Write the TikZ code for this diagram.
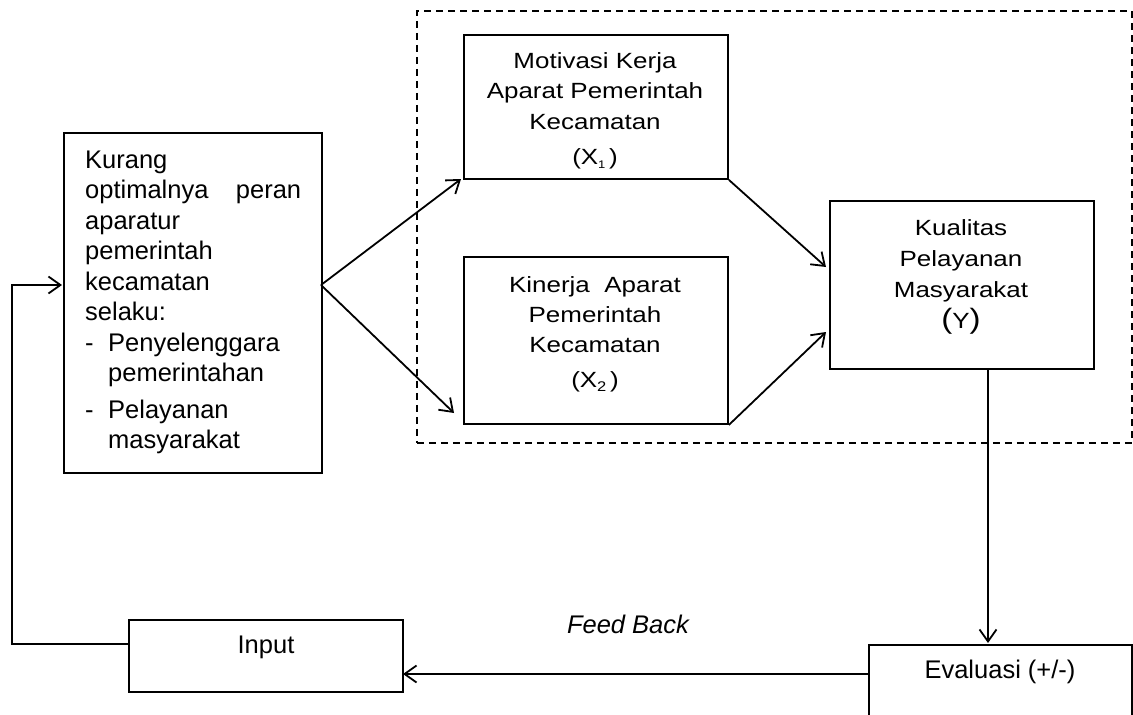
\documentclass[tikz,border=0pt]{standalone}
\usepackage{fontspec}
\setmainfont{Liberation Sans}
\newfontfamily\innerf[FakeStretch=1.18]{Liberation Sans}
\usetikzlibrary{arrows.meta,calc}
\newcommand{\lowidx}[2]{\raisebox{-4pt}{\fontsize{#1}{#1}\selectfont #2}}
\begin{document}
\begin{tikzpicture}[x=1pt,y=-1pt,
  box/.style={draw, line width=1.9pt, inner sep=0pt, anchor=north west},
  conn/.style={line width=1.8pt, -{Straight Barb[length=12pt,width=17pt]}},
  dashedbox/.style={draw, line width=1.8pt, dash pattern=on 7pt off 5pt, inner sep=0pt, anchor=north west},
  mtxt/.style={inner sep=0pt, anchor=base, font=\fontsize{25.5}{30.5}\selectfont},
  itxt/.style={inner sep=0pt, anchor=base}
]
\path[use as bounding box] (0,0) rectangle (1133,715);
\fill[white] (0,0) rectangle (1133,715);

% group frame
\node[dashedbox, minimum width=715pt, minimum height=432pt] (grp) at (416,10) {};

% boxes
\node[box, minimum width=258pt, minimum height=340pt] (prob) at (63,132) {};
\node[box, minimum width=264pt, minimum height=144pt] (mot) at (463,34) {};
\node[box, minimum width=264pt, minimum height=167pt] (kin) at (463,256) {};
\node[box, minimum width=264pt, minimum height=168pt] (kual) at (829,200) {};
\node[box, minimum width=274pt, minimum height=72pt] (inp) at (128,619) {};
\node[box, minimum width=263pt, minimum height=74pt] (eva) at (868,644) {};

% texts
\node[itxt, anchor=base west] (probtxt) at (85,168) {\parbox[t]{216pt}{\fontsize{25.5}{30.5}\selectfont\raggedright
Kurang\\
optimalnya\hfill peran\\
aparatur\\
pemerintah\\
kecamatan\\
selaku:\\
\makebox[23pt][l]{-}Penyelenggara\\
\hspace*{23pt}pemerintahan\\[6pt]
\makebox[23pt][l]{-}Pelayanan\\
\hspace*{23pt}masyarakat}};

\node[itxt] (mottxt) at (595,68) {\parbox[t]{250pt}{\centering\innerf\fontsize{22}{30.5}\selectfont
Motivasi Kerja\\
Aparat Pemerintah\\
Kecamatan\\[5pt]
(X\lowidx{11}{1}\,)}};

\node[itxt] (kintxt) at (595,292) {\parbox[t]{250pt}{\centering\innerf\fontsize{22}{30}\selectfont
Kinerja\ \ Aparat\\
Pemerintah\\
Kecamatan\\[5pt]
(X\lowidx{14}{2}\,)}};

\node[itxt] (kualtxt) at (961,235) {\parbox[t]{250pt}{\centering\innerf\fontsize{22}{31}\selectfont
Kualitas\\
Pelayanan\\
Masyarakat\\
{\fontsize{28}{28}\selectfont(}Y{\fontsize{28}{28}\selectfont)}}};

\node[mtxt] (inptxt) at (266,653) {Input};
\node[mtxt] (evatxt) at (1000,678) {Evaluasi (+/-)};
\node[mtxt, font=\fontsize{25.5}{30.5}\selectfont\itshape] (fbtxt) at (628,633) {Feed Back};

% connector points
\coordinate (fork) at (321,285);
\coordinate (motin) at (461,179);
\coordinate (kinin) at (454,413);
\coordinate (kualA) at (826,267);
\coordinate (kualB) at (826,332);
\coordinate (kualout) at (988,368);
\coordinate (evain) at (988,643);
\coordinate (evaout) at (868,674);
\coordinate (inpin) at (403,674);
\coordinate (inpout) at (128,644);
\coordinate (c1) at (12,644);
\coordinate (c2) at (12,285);
\coordinate (probin) at (62,285);

\draw[conn] (fork) -- (motin);
\draw[conn] (fork) -- (kinin);
\draw[conn] (mot.south east) -- (kualA);
\draw[conn] (kin.south east) -- (kualB);
\draw[conn] (kualout) -- (evain);
\draw[conn] (evaout) -- (inpin);
\draw[conn] (inpout) -- (c1) -- (c2) -- (probin);
\end{tikzpicture}
\end{document}
